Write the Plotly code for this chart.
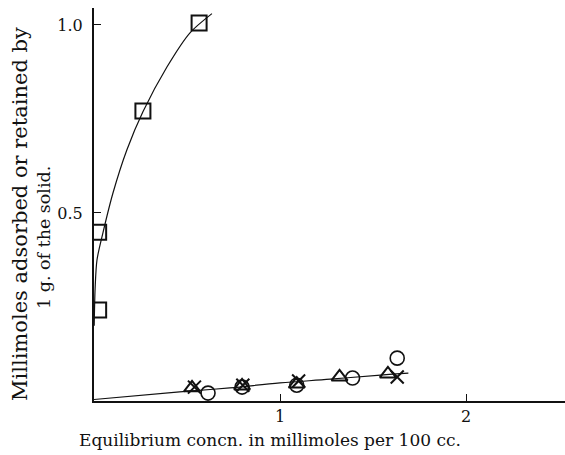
import plotly.graph_objects as go

# Data
square_x = [0.025, 0.025, 0.263, 0.565]
square_y = [0.242, 0.449, 0.771, 1.005]

circle_x = [0.613, 0.796, 1.09, 1.39, 1.63]
circle_y = [0.021, 0.037, 0.042, 0.061, 0.114]

triangle_x = [0.527, 0.796, 1.09, 1.32, 1.58]
triangle_y = [0.035, 0.040, 0.045, 0.064, 0.072]

cross_x = [0.54, 0.80, 1.10, 1.63]
cross_y = [0.037, 0.042, 0.053, 0.064]

upper_curve_x = [0.001, 0.006, 0.016, 0.048, 0.102, 0.177, 0.263, 0.392, 0.516, 0.634]
upper_curve_y = [0.20, 0.30, 0.375, 0.447, 0.553, 0.668, 0.769, 0.888, 0.979, 1.03]

lower_curve_x = [0.0, 0.46, 0.73, 1.0, 1.27, 1.54, 1.69]
lower_curve_y = [0.004, 0.024, 0.035, 0.048, 0.058, 0.069, 0.074]

x_ticks = [1, 2]
x_tick_labels = ["1", "2"]
y_ticks = [0.5, 1.0]
y_tick_labels = ["0.5", "1.0"]

INK = "#111111"
FONT = "DejaVu Serif"

fig = go.Figure()
fig.add_trace(go.Scatter(x=upper_curve_x, y=upper_curve_y, mode="lines",
                         line=dict(color=INK, width=1.2, shape="spline", smoothing=0.8),
                         hoverinfo="skip"))
fig.add_trace(go.Scatter(x=lower_curve_x, y=lower_curve_y, mode="lines",
                         line=dict(color=INK, width=1.2, shape="spline"), hoverinfo="skip"))
fig.add_trace(go.Scatter(x=square_x, y=square_y, mode="markers",
                         marker=dict(symbol="square-open", size=15, color=INK,
                                     line=dict(width=2, color=INK))))
fig.add_trace(go.Scatter(x=circle_x, y=circle_y, mode="markers",
                         marker=dict(symbol="circle-open", size=14, color=INK,
                                     line=dict(width=1.6, color=INK))))
fig.add_trace(go.Scatter(x=triangle_x, y=triangle_y, mode="markers",
                         marker=dict(symbol="triangle-up-open", size=14, color=INK,
                                     line=dict(width=2, color=INK))))
fig.add_trace(go.Scatter(x=cross_x, y=cross_y, mode="markers",
                         marker=dict(symbol="x-thin-open", size=13, color=INK,
                                     line=dict(width=2, color=INK))))

fig.update_layout(
    width=565, height=455,
    margin=dict(l=94, r=0, t=8, b=54),
    paper_bgcolor="white", plot_bgcolor="white",
    showlegend=False,
    font=dict(family=FONT, color=INK, size=15),
    xaxis=dict(range=[0, 2.532], showgrid=False, zeroline=False,
               showline=True, linecolor=INK, linewidth=2,
               tickmode="array", tickvals=x_ticks, ticktext=x_tick_labels,
               ticks="inside", ticklen=7, tickwidth=1.2, tickcolor=INK,
               tickfont=dict(family=FONT, size=16, color=INK)),
    yaxis=dict(range=[0, 1.045], showgrid=False, zeroline=False,
               showline=True, linecolor=INK, linewidth=2,
               tickmode="array", tickvals=y_ticks, ticktext=y_tick_labels,
               ticks="inside", ticklen=7, tickwidth=1.2, tickcolor=INK,
               ticklabelstandoff=6,
               tickfont=dict(family=FONT, size=16, color=INK)),
    annotations=[
        dict(text="Equilibrium concn. in millimoles per 100 cc.",
             xref="paper", yref="paper", x=(270 - 94) / 471, y=-(440 - 401) / 393,
             xanchor="center", yanchor="middle", showarrow=False,
             font=dict(family=FONT, size=17, color=INK)),
        dict(text="Millimoles adsorbed or retained by",
             xref="paper", yref="paper", x=-(94 - 20) / 471, y=(401 - 214) / 393,
             xanchor="center", yanchor="middle", showarrow=False, textangle=-90,
             font=dict(family=FONT, size=21, color=INK)),
        dict(text="1 g. of the solid.",
             xref="paper", yref="paper", x=-(94 - 44) / 471, y=(401 - 238) / 393,
             xanchor="center", yanchor="middle", showarrow=False, textangle=-90,
             font=dict(family=FONT, size=17.5, color=INK)),
    ],
)

fig.write_html("out.html", config={"displayModeBar": False},
               post_script="document.body.style.margin='0px';document.body.style.overflow='hidden';")
